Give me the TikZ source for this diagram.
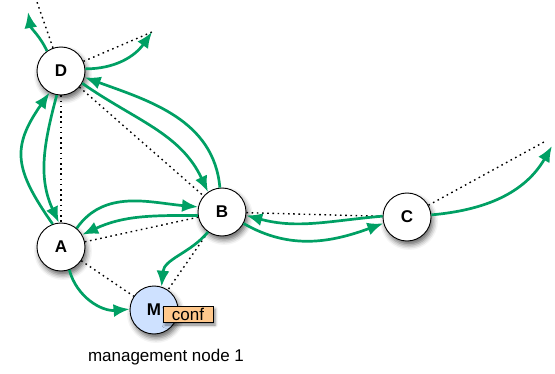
\documentclass[tikz,border=0pt]{standalone}
\usepackage{fontspec}
\setmainfont{Liberation Sans}
\usetikzlibrary{arrows.meta, shadows.blur, backgrounds}

\definecolor{flowgreen}{RGB}{0,160,100}
\definecolor{mgmtblue}{RGB}{206,225,255}
\definecolor{conforange}{RGB}{255,200,140}

\begin{document}
\begin{tikzpicture}[
    x=1pt, y=1pt,
    font=\fontsize{17}{20}\selectfont,
    peer/.style={draw, circle, fill=white, line width=0.9pt, minimum size=48pt, inner sep=0pt,
        font=\fontsize{17}{20}\selectfont\bfseries,
        blur shadow={shadow xshift=2pt, shadow yshift=-4pt, shadow blur radius=5pt, shadow opacity=60}},
    mgmt/.style={peer, fill=mgmtblue},
    confbox/.style={draw, fill=conforange, line width=0.8pt, minimum width=50pt, minimum height=16pt, inner sep=0pt,
        blur shadow={shadow xshift=2pt, shadow yshift=-3pt, shadow blur radius=3pt, shadow opacity=50}},
    link/.style={line width=1.4pt, dash pattern=on 1.6pt off 3.6pt},
    flow/.style={draw=flowgreen, line width=2.7pt, -{Latex[length=16pt, width=13pt]}}
]
\useasboundingbox (0,0) rectangle (555,373);

% Peers
\node[peer] (D) at (61,302) {D};
\node[peer] (A) at (61,126) {A};
\node[peer] (B) at (222,161) {B};
\node[peer] (C) at (407,156) {C};

% Management node
\node[mgmt] (M) at (154,63) {M};
\node[confbox] (conf) at (188,59) {conf};
\node (mlabel) at (166,16) {management node 1};

% Links leaving the picture
\coordinate (dUp) at (37,371);
\coordinate (dUpTip) at (28,361);
\coordinate (dRight) at (152,341);
\coordinate (cRight) at (544,231);
\coordinate (cRightTip) at (552,227);

% Overlay links (dotted)
\begin{scope}[on background layer]
\foreach \u/\v in {D/dUp, D/dRight, D/A, D/B, A/B, A/M, B/M, B/C, C/cRight}
    \draw[link] (\u) -- (\v);
\end{scope}

% Messages
\draw[flow] (D.125) to[out=115, in=-80] (dUpTip);
\draw[flow] (D.5) to[out=0, in=-125] (dRight);
\draw[flow] (D.-30) to[out=-35, in=115] (B.125);
\draw[flow] (B.95) to[out=95, in=-20] (D.-15);
\draw[flow] (A.110) to[out=125, in=-125, looseness=1.3] (D.-118);
\draw[flow] (D.-100) to[out=-105, in=115] (A.95);
\draw[flow] (A.50) to[out=55, in=175] (B.168);
\draw[flow] (B.188) to[out=180, in=25] (A.30);
\draw[flow] (A.-70) to[out=-75, in=185] (M.178);
\draw[flow] (B.-125) to[out=-130, in=85] (M.72);
\draw[flow] (B.-28) to[out=-30, in=-160] (C.-165);
\draw[flow] (C.178) to[out=-175, in=-15] (B.-8);
\draw[flow] (C.5) to[out=5, in=-120] (cRightTip);

\end{tikzpicture}
\end{document}
